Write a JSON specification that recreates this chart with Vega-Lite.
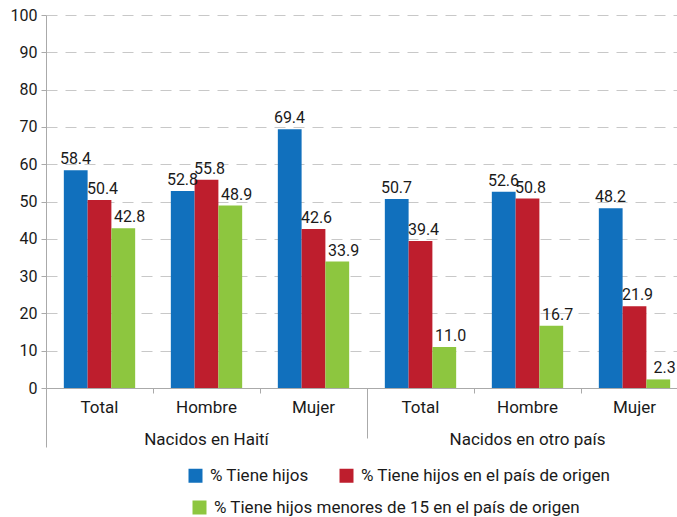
{
  "$schema": "https://vega.github.io/schema/vega-lite/v6.json",
  "width": 631,
  "height": 373,
  "autosize": {"type": "none"},
  "padding": {"left": 46, "top": 15, "right": 0, "bottom": 129},
  "config": {
    "view": {"stroke": null},
    "font": "Roboto",
    "text": {"font": "Roboto"}
  },
  "data": {
    "values": [
      {"cat": "Haití|Total", "serie": "% Tiene hijos", "valor": 58.4},
      {"cat": "Haití|Total", "serie": "% Tiene hijos en el país de origen", "valor": 50.4},
      {"cat": "Haití|Total", "serie": "% Tiene hijos menores de 15 en el país de origen", "valor": 42.8},
      {"cat": "Haití|Hombre", "serie": "% Tiene hijos", "valor": 52.8},
      {"cat": "Haití|Hombre", "serie": "% Tiene hijos en el país de origen", "valor": 55.8},
      {"cat": "Haití|Hombre", "serie": "% Tiene hijos menores de 15 en el país de origen", "valor": 48.9},
      {"cat": "Haití|Mujer", "serie": "% Tiene hijos", "valor": 69.4},
      {"cat": "Haití|Mujer", "serie": "% Tiene hijos en el país de origen", "valor": 42.6},
      {"cat": "Haití|Mujer", "serie": "% Tiene hijos menores de 15 en el país de origen", "valor": 33.9},
      {"cat": "Otro|Total", "serie": "% Tiene hijos", "valor": 50.7},
      {"cat": "Otro|Total", "serie": "% Tiene hijos en el país de origen", "valor": 39.4},
      {"cat": "Otro|Total", "serie": "% Tiene hijos menores de 15 en el país de origen", "valor": 11.0},
      {"cat": "Otro|Hombre", "serie": "% Tiene hijos", "valor": 52.6},
      {"cat": "Otro|Hombre", "serie": "% Tiene hijos en el país de origen", "valor": 50.8},
      {"cat": "Otro|Hombre", "serie": "% Tiene hijos menores de 15 en el país de origen", "valor": 16.7},
      {"cat": "Otro|Mujer", "serie": "% Tiene hijos", "valor": 48.2},
      {"cat": "Otro|Mujer", "serie": "% Tiene hijos en el país de origen", "valor": 21.9},
      {"cat": "Otro|Mujer", "serie": "% Tiene hijos menores de 15 en el país de origen", "valor": 2.3}
    ]
  },
  "encoding": {
    "x": {
      "field": "cat",
      "type": "nominal",
      "sort": ["Haití|Total", "Haití|Hombre", "Haití|Mujer", "Otro|Total", "Otro|Hombre", "Otro|Mujer"],
      "scale": {"range": [0, 642], "paddingInner": 0, "paddingOuter": 0},
      "axis": {
        "title": null,
        "bandPosition": 0,
        "labelAngle": 0,
        "labelFontSize": 17,
        "labelColor": "#1a1a1a",
        "labelLineHeight": 32,
        "labelBaseline": "top",
        "labelExpr": "datum.value == 'Haití|Hombre' ? ['Hombre', 'Nacidos en Haití'] : datum.value == 'Otro|Hombre' ? ['Hombre', 'Nacidos en otro país'] : split(datum.value, '|')[1]",
        "domainColor": "#aaaaaa",
        "tickColor": "#aaaaaa",
        "tickSize": {"condition": [{"test": "datum.value === 'Haití|Total'", "value": 59}, {"test": "datum.value === 'Otro|Total'", "value": 50}], "value": 5},
        "labelPadding": {"condition": [{"test": "datum.value === 'Haití|Total'", "value": -48}, {"test": "datum.value === 'Otro|Total'", "value": -39}], "value": 6},
        "grid": false
      }
    },
    "y": {
      "field": "valor",
      "type": "quantitative",
      "scale": {"domain": [0, 100]},
      "axis": {
        "title": null,
        "values": [0, 10, 20, 30, 40, 50, 60, 70, 80, 90, 100],
        "grid": true,
        "gridDash": [11, 8],
        "gridColor": "#c8c8c8",
        "domainColor": "#aaaaaa",
        "tickColor": "#aaaaaa",
        "tickSize": 5,
        "labelFontSize": 16,
        "labelColor": "#1a1a1a",
        "labelPadding": 4
      }
    }
  },
  "layer": [
    {
      "transform": [{"filter": "datum.serie != '% Tiene hijos menores de 15 en el país de origen'"}],
      "mark": {"type": "bar"},
      "encoding": {
        "xOffset": {
          "field": "serie",
          "type": "nominal",
          "scale": {
            "domain": ["% Tiene hijos", "% Tiene hijos en el país de origen", "% Tiene hijos menores de 15 en el país de origen"],
            "paddingInner": 0, "paddingOuter": 0.75
          }
        },
        "color": {
          "field": "serie",
          "type": "nominal",
          "scale": {
            "domain": ["% Tiene hijos", "% Tiene hijos en el país de origen"],
            "range": ["#1170bd", "#be1e2d"]
          },
          "legend": {
            "title": null,
            "orient": "none",
            "legendX": 141,
            "legendY": 452,
            "direction": "horizontal",
            "symbolType": "square",
            "symbolSize": 196,
            "symbolStrokeWidth": 0,
            "labelFontSize": 17,
            "labelColor": "#1a1a1a",
            "labelLimit": 500,
            "labelOffset": 6,
            "columnPadding": 29
          }
        }
      }
    },
    {
      "transform": [{"filter": "datum.serie == '% Tiene hijos menores de 15 en el país de origen'"}],
      "mark": {"type": "bar"},
      "encoding": {
        "xOffset": {
          "field": "serie",
          "type": "nominal",
          "scale": {
            "domain": ["% Tiene hijos", "% Tiene hijos en el país de origen", "% Tiene hijos menores de 15 en el país de origen"],
            "paddingInner": 0, "paddingOuter": 0.75
          }
        },
        "fill": {
          "field": "serie",
          "type": "nominal",
          "scale": {
            "domain": ["% Tiene hijos menores de 15 en el país de origen"],
            "range": ["#8dc63f"]
          },
          "legend": {
            "title": null,
            "orient": "none",
            "legendX": 145,
            "legendY": 484,
            "direction": "horizontal",
            "symbolType": "square",
            "symbolSize": 196,
            "symbolStrokeWidth": 0,
            "labelFontSize": 17,
            "labelColor": "#1a1a1a",
            "labelLimit": 500,
            "labelOffset": 6
          }
        }
      }
    },
    {
      "mark": {"type": "text", "baseline": "bottom", "dy": -3, "dx": 3, "fontSize": 16, "color": "#1a1a1a"},
      "encoding": {
        "xOffset": {
          "field": "serie",
          "type": "nominal",
          "scale": {
            "domain": ["% Tiene hijos", "% Tiene hijos en el país de origen", "% Tiene hijos menores de 15 en el país de origen"],
            "padding": 0.98
          }
        },
        "text": {"field": "valor", "type": "quantitative", "format": ".1f"}
      }
    }
  ],
  "resolve": {"scale": {"xOffset": "independent"}}
}
